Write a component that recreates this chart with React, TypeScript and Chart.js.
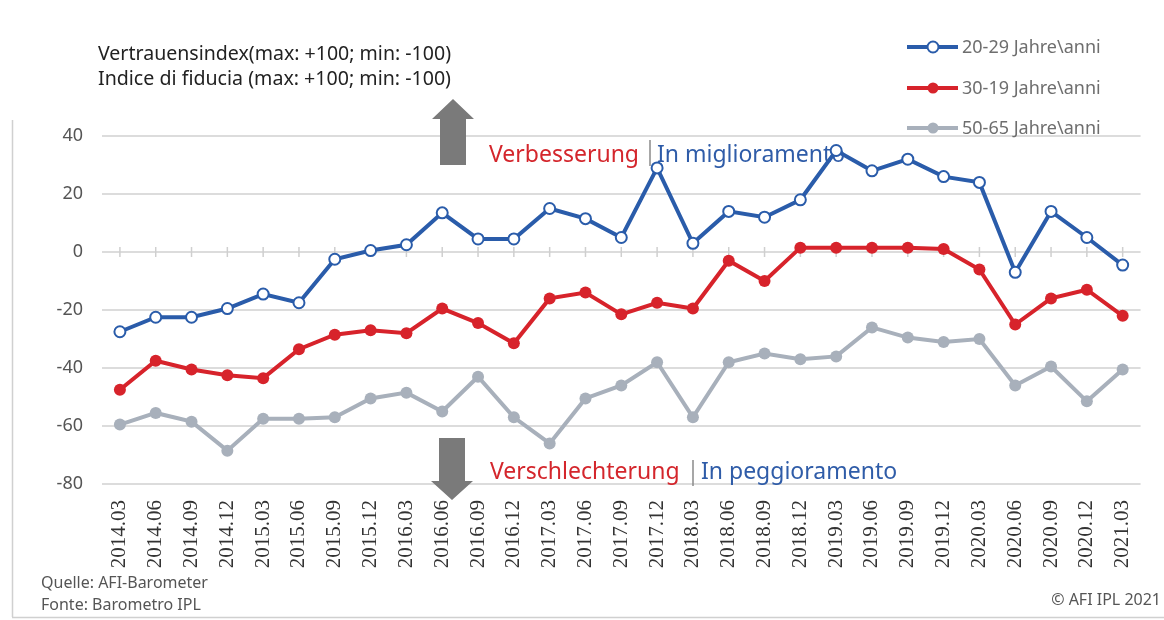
import React, { useEffect, useRef } from "react";
import { Chart, registerables } from "chart.js";

Chart.register(...registerables);

const categories = [
  "2014.03", "2014.06", "2014.09", "2014.12",
  "2015.03", "2015.06", "2015.09", "2015.12",
  "2016.03", "2016.06", "2016.09", "2016.12",
  "2017.03", "2017.06", "2017.09", "2017.12",
  "2018.03", "2018.06", "2018.09", "2018.12",
  "2019.03", "2019.06", "2019.09", "2019.12",
  "2020.03", "2020.06", "2020.09", "2020.12",
  "2021.03",
];

const age2029 = [
  -27.5, -22.5, -22.5, -19.5,
  -14.5, -17.5, -2.5, 0.5,
  2.5, 13.5, 4.5, 4.5,
  15, 11.5, 5, 29,
  3, 14, 12, 18,
  35, 28, 32, 26,
  24, -7, 14, 5,
  -4.5,
];

const age3049 = [
  -47.5, -37.5, -40.5, -42.5,
  -43.5, -33.5, -28.5, -27,
  -28, -19.5, -24.5, -31.5,
  -16, -14, -21.5, -17.5,
  -19.5, -3, -10, 1.5,
  1.5, 1.5, 1.5, 1,
  -6, -25, -16, -13,
  -22,
];

const age5065 = [
  -59.5, -55.5, -58.5, -68.5,
  -57.5, -57.5, -57, -50.5,
  -48.5, -55, -43, -57,
  -66, -50.5, -46, -38,
  -57, -38, -35, -37,
  -36, -26, -29.5, -31,
  -30, -46, -39.5, -51.5,
  -40.5,
];

const seriesNames = ["20-29 Jahre\\anni", "30-19 Jahre\\anni", "50-65 Jahre\\anni"];
const titleLines = [
  "Vertrauensindex(max: +100; min: -100)",
  "Indice di fiducia (max: +100; min: -100)",
];
const upText = ["Verbesserung", "In miglioramento"];
const downText = ["Verschlechterung", "In peggioramento"];
const footerLeft = ["Quelle: AFI-Barometer", "Fonte: Barometro IPL"];
const footerRight = "© AFI IPL 2021";
const yTicks = { min: -80, max: 40, step: 20 };

const BLUE = "#2a5caa";
const RED = "#d7232b";
const GRAY = "#a8b0bb";
const TEXT_RED = "#d4262c";
const TEXT_BLUE = "#2f5ca8";
const SANS = "'Noto Sans', 'Open Sans', sans-serif";

const decorPlugin = {
  id: "decor",
  beforeDatasetsDraw(chart: any) {
    const ctx = chart.ctx;
    const y = chart.scales.y;
    const x = chart.scales.x;
    ctx.save();
    // small ticks on zero line
    const y0 = y.getPixelForValue(0);
    ctx.strokeStyle = "#cfcfcf";
    ctx.lineWidth = 1.5;
    for (let i = 0; i < categories.length; i++) {
      const px = x.getPixelForValue(i);
      ctx.beginPath();
      ctx.moveTo(px, y0 - 5);
      ctx.lineTo(px, y0 + 5);
      ctx.stroke();
    }
    // arrows
    ctx.fillStyle = "#7a7a7a";
    ctx.beginPath();
    ctx.moveTo(453, 99);
    ctx.lineTo(474, 119);
    ctx.lineTo(466, 119);
    ctx.lineTo(466, 165);
    ctx.lineTo(440, 165);
    ctx.lineTo(440, 119);
    ctx.lineTo(432, 119);
    ctx.closePath();
    ctx.fill();
    ctx.beginPath();
    ctx.moveTo(439, 438);
    ctx.lineTo(465, 438);
    ctx.lineTo(465, 481);
    ctx.lineTo(473, 481);
    ctx.lineTo(452, 500);
    ctx.lineTo(431, 481);
    ctx.lineTo(439, 481);
    ctx.closePath();
    ctx.fill();
    // annotations
    ctx.textBaseline = "alphabetic";
    ctx.textAlign = "left";
    ctx.font = `23px ${SANS}`;
    ctx.fillStyle = TEXT_RED;
    ctx.fillText(upText[0], 489, 162, 152);
    ctx.fillStyle = TEXT_BLUE;
    ctx.fillText(upText[1], 657, 162, 198);
    ctx.fillStyle = TEXT_RED;
    ctx.fillText(downText[0], 490, 479, 193);
    ctx.fillStyle = TEXT_BLUE;
    ctx.fillText(downText[1], 701, 479, 198);
    // separators
    ctx.strokeStyle = "#8a8a8a";
    ctx.lineWidth = 1.5;
    ctx.beginPath();
    ctx.moveTo(650, 140);
    ctx.lineTo(650, 166);
    ctx.moveTo(693, 460);
    ctx.lineTo(693, 486);
    ctx.stroke();
    ctx.restore();
  },
  afterDraw(chart: any) {
    const ctx = chart.ctx;
    ctx.save();
    // frame lines
    ctx.strokeStyle = "#d0d0d0";
    ctx.lineWidth = 1.5;
    ctx.beginPath();
    ctx.moveTo(12.5, 120);
    ctx.lineTo(12.5, 617);
    ctx.moveTo(12, 617.5);
    ctx.lineTo(1164, 617.5);
    ctx.stroke();
    // title
    ctx.fillStyle = "#222";
    ctx.font = `20px ${SANS}`;
    ctx.textAlign = "left";
    ctx.textBaseline = "alphabetic";
    ctx.fillText(titleLines[0], 98, 60, 353);
    ctx.fillText(titleLines[1], 98, 85, 353);
    // legend
    const rows = [
      { y: 47, color: BLUE, hollow: true },
      { y: 88, color: RED, hollow: false },
      { y: 128, color: GRAY, hollow: false },
    ];
    rows.forEach((r, i) => {
      ctx.strokeStyle = r.color;
      ctx.lineWidth = 4;
      ctx.beginPath();
      ctx.moveTo(907, r.y);
      ctx.lineTo(958, r.y);
      ctx.stroke();
      ctx.beginPath();
      ctx.arc(933, r.y, 5.5, 0, Math.PI * 2);
      if (r.hollow) {
        ctx.fillStyle = "#fff";
        ctx.fill();
        ctx.lineWidth = 2;
        ctx.stroke();
      } else {
        ctx.fillStyle = r.color;
        ctx.fill();
      }
      ctx.fillStyle = "#6e6e6e";
      ctx.font = `18px ${SANS}`;
      ctx.fillText(seriesNames[i], 962, r.y + 6, 150);
    });
    // footers
    ctx.fillStyle = "#555";
    ctx.font = `16px ${SANS}`;
    ctx.fillText(footerLeft[0], 41, 588, 172);
    ctx.fillText(footerLeft[1], 41, 610, 161);
    ctx.textAlign = "right";
    ctx.fillText(footerRight, 1161, 605, 110);
    ctx.restore();
  },
};

export default function App() {
  const canvasRef = useRef<HTMLCanvasElement | null>(null);

  useEffect(() => {
    if (!canvasRef.current) return;
    const chart = new Chart(canvasRef.current, {
      type: "line",
      data: {
        labels: categories,
        datasets: [
          {
            label: seriesNames[0],
            data: age2029,
            borderColor: BLUE,
            backgroundColor: "#ffffff",
            pointBorderColor: BLUE,
            pointBackgroundColor: "#ffffff",
            pointRadius: 5.5,
            pointBorderWidth: 2,
            borderWidth: 4,
            tension: 0,
          },
          {
            label: seriesNames[1],
            data: age3049,
            borderColor: RED,
            backgroundColor: RED,
            pointBackgroundColor: RED,
            pointBorderColor: RED,
            pointRadius: 6,
            pointBorderWidth: 0,
            borderWidth: 4,
            tension: 0,
          },
          {
            label: seriesNames[2],
            data: age5065,
            borderColor: GRAY,
            backgroundColor: GRAY,
            pointBackgroundColor: GRAY,
            pointBorderColor: GRAY,
            pointRadius: 6,
            pointBorderWidth: 0,
            borderWidth: 4,
            tension: 0,
          },
        ],
      },
      options: {
        animation: false,
        responsive: false,
        maintainAspectRatio: false,
        layout: { padding: { top: 136, right: 3, left: 0, bottom: 0 } },
        plugins: {
          legend: { display: false },
          title: { display: false },
          tooltip: { enabled: false },
        },
        scales: {
          x: {
            type: "category",
            offset: true,
            grid: { display: false, drawTicks: false },
            border: { display: false },
            ticks: {
              minRotation: 90,
              maxRotation: 90,
              autoSkip: false,
              padding: 16,
              color: "#333",
              font: { family: "'Liberation Serif', serif", size: 21 },
            },
            afterFit: (scale: any) => {
              scale.height = 136;
            },
          },
          y: {
            min: yTicks.min,
            max: yTicks.max,
            ticks: {
              stepSize: yTicks.step,
              padding: 19,
              color: "#555",
              font: { family: SANS, size: 18 },
            },
            grid: { color: "#dcdcdc", lineWidth: 2, drawTicks: false },
            border: { display: false },
            afterFit: (scale: any) => {
              scale.width = 102;
            },
          },
        },
      },
      plugins: [decorPlugin],
    });
    return () => chart.destroy();
  }, []);

  return (
    <div style={{ position: "fixed", left: 0, top: 0, width: 1164, height: 620, background: "#fff" }}>
      <canvas ref={canvasRef} width={1164} height={620} style={{ width: 1164, height: 620, display: "block" }} />
    </div>
  );
}
